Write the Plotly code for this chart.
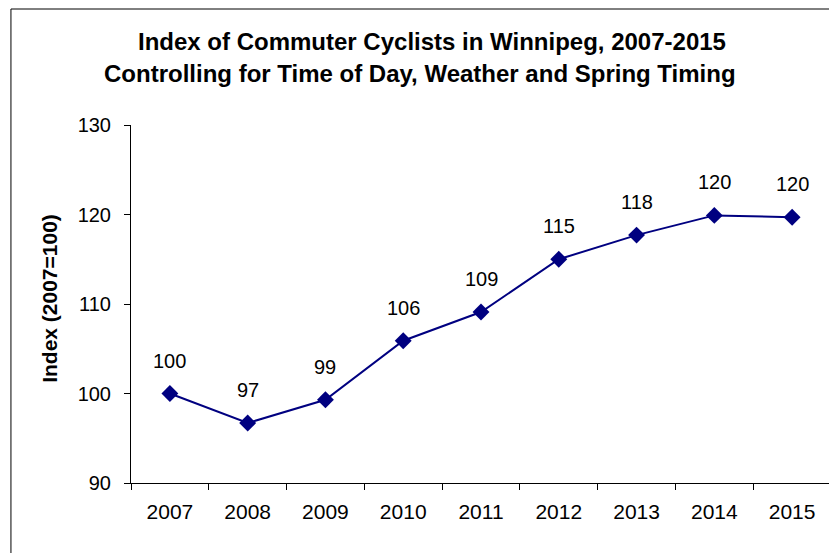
import plotly.graph_objects as go

years = ["2007", "2008", "2009", "2010", "2011", "2012", "2013", "2014", "2015"]
index_values = [100.0, 96.7, 99.3, 105.9, 109.1, 115.0, 117.7, 119.9, 119.7]
point_labels = ["100", "97", "99", "106", "109", "115", "118", "120", "120"]
y_ticks = [90, 100, 110, 120, 130]

title_line1 = "Index of Commuter Cyclists in Winnipeg, 2007-2015"
title_line2 = "Controlling for Time of Day, Weather and Spring Timing"
y_title = "Index (2007=100)"

FONT = "Liberation Sans, Arial, sans-serif"
NAVY = "#000080"

fig = go.Figure()
fig.add_trace(go.Scatter(
    x=years, y=index_values, mode="lines+markers",
    line=dict(color=NAVY, width=2),
    marker=dict(symbol="diamond", size=13, color=NAVY),
    showlegend=False, hoverinfo="x+y",
))

annotations = []
for i, (v, lab) in enumerate(zip(index_values, point_labels)):
    annotations.append(dict(x=i, y=v, xref="x", yref="y", text=lab, showarrow=False,
                            yshift=33, font=dict(family=FONT, size=20, color="black")))

annotations += [
    dict(x=0.4295, y=1.232, xref="paper", yref="paper", text="<b>" + title_line1 + "</b>",
         showarrow=False, xanchor="center", yanchor="middle",
         font=dict(family=FONT, size=24, color="black")),
    dict(x=0.413, y=1.145, xref="paper", yref="paper", text="<b>" + title_line2 + "</b>",
         showarrow=False, xanchor="center", yanchor="middle",
         font=dict(family=FONT, size=24, color="black")),
    dict(x=-0.1158, y=0.517, xref="paper", yref="paper", text="<b>" + y_title + "</b>",
         showarrow=False, textangle=-90, xanchor="center", yanchor="middle",
         font=dict(family=FONT, size=21, color="black")),
]

fig.update_layout(
    width=837, height=553,
    margin=dict(l=123, r=14, t=117, b=78),
    paper_bgcolor="white", plot_bgcolor="white",
    annotations=annotations,
    shapes=[dict(type="rect", xref="paper", yref="paper",
                 x0=-0.1715, x1=1.03, y0=-0.25, y1=1.324,
                 line=dict(color="black", width=1), layer="below")],
    xaxis=dict(type="category", range=[-0.5, 8.5], showgrid=False, zeroline=False,
               showline=True, linecolor="black", linewidth=1,
               ticks="outside", tickson="boundaries", ticklen=6, tickcolor="black",
               ticklabelstandoff=10,
               tickfont=dict(family=FONT, size=21, color="black")),
    yaxis=dict(range=[90, 130], tickvals=y_ticks, showgrid=False, zeroline=False,
               showline=True, linecolor="black", linewidth=1,
               ticks="outside", ticklen=6, tickcolor="black",
               ticklabelstandoff=9,
               tickfont=dict(family=FONT, size=20, color="black")),
)

fig.write_html("out.html")
